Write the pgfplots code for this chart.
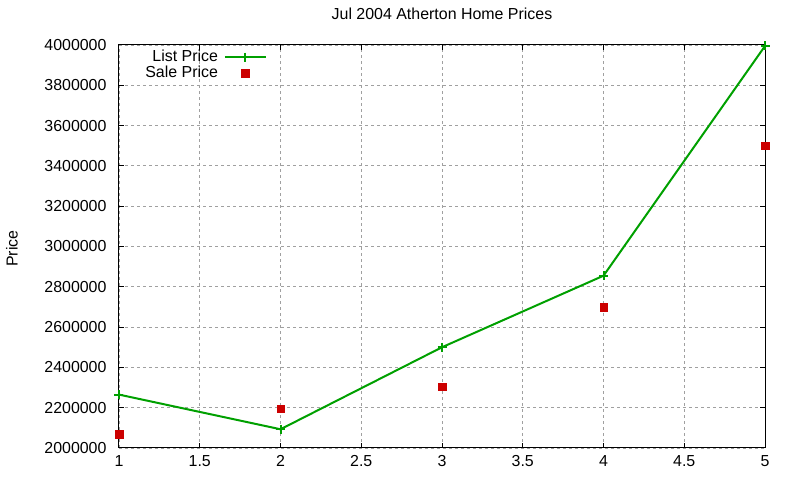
\documentclass[border=0pt]{standalone}
\usepackage{pgfplots}
\pgfplotsset{compat=1.18}
\usepackage{fontspec}
\setmainfont{Liberation Sans}
\definecolor{lgreen}{RGB}{0,160,0}
\definecolor{sred}{RGB}{204,0,0}
\definecolor{gridgray}{RGB}{160,160,160}
\begin{document}
\fontsize{16}{19}\selectfont
\begin{tikzpicture}[x=1bp,y=1bp]
\useasboundingbox (-119,-32) rectangle (681,448);
\begin{axis}[
  at={(0,0)}, anchor=south west,
  scale only axis, width=646bp, height=403bp,
  font=\fontsize{16}{19}\selectfont,
  /pgf/number format/assume math mode=true,
  xmin=1, xmax=5, ymin=2000000, ymax=4000000,
  xtick={1,1.5,2,2.5,3,3.5,4,4.5,5},
  ytick={2000000,2200000,2400000,2600000,2800000,3000000,3200000,3400000,3600000,3800000,4000000},
  scaled y ticks=false,
  yticklabel style={xshift=-7bp, /pgf/number format/.cd, fixed, 1000 sep={}},
  xticklabel style={yshift=-2bp},
  grid=major,
  major grid style={gridgray, line width=0.8bp, dash pattern=on 3bp off 3bp},
  axis line style={black, line width=1bp},
  tick style={black, line width=1bp},
  tick align=inside, major tick length=5bp,
  title={Jul 2004 Atherton Home Prices},
  title style={at={(0.5,1)}, anchor=base, yshift=20bp},
  ylabel={Price},
  ylabel style={at={([xshift=-107bp,yshift=-2bp]axis description cs:0,0.5)}, anchor=center},
  legend plot pos=right,
  legend cell align=right,
  legend style={draw=none, fill=none, at={(rel axis cs:0.234,1)}, anchor=north east,
    yshift=-1bp, row sep=-2bp, column sep=4bp, font=\fontsize{16}{19}\selectfont},
  legend image code/.code={\draw[mark repeat=2,mark phase=2] plot coordinates {(0bp,0bp) (20.5bp,0bp) (41bp,0bp)};},
]
\addplot[lgreen, line width=2bp, mark=+, mark size=4.5bp, mark options={line width=2bp}]
  coordinates {(1,2265000) (2,2093000) (3,2500000) (4,2855000) (5,3995000)};
\addlegendentry{List Price}
\addplot[only marks, mark=square*, mark size=3.8bp, sred, mark options={draw=none, fill=sred}]
  coordinates {(1,2068000) (2,2195000) (3,2305000) (4,2700000) (5,3500000)};
\addlegendentry{Sale Price}
\end{axis}
\end{tikzpicture}
\end{document}
